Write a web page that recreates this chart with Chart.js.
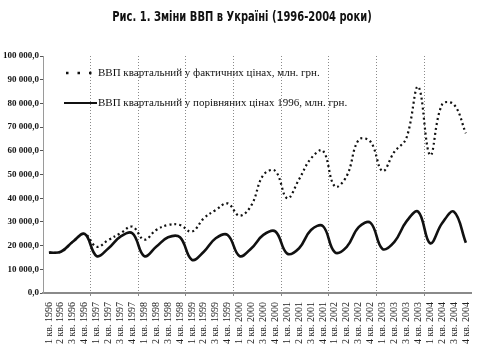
<!DOCTYPE html>
<html>
<head>
<meta charset="utf-8">
<script src="https://cdn.jsdelivr.net/npm/chart.js@4.4.1/dist/chart.umd.min.js"></script>
<style>
html,body{margin:0;padding:0;background:#fff;}
#wrap{width:484px;height:360px;position:relative;}
</style>
</head>
<body>
<div id="wrap"><canvas id="c" width="484" height="360"></canvas></div>
<script>
const titleText = 'Рис. 1. Зміни ВВП в Україні (1996-2004 роки)';
const years = [1996, 1997, 1998, 1999, 2000, 2001, 2002, 2003, 2004];
const quarters = ['1 кв.', '2 кв.', '3 кв.', '4 кв.'];
const categories = [];
years.forEach(y => quarters.forEach(q => categories.push(q + ' ' + y)));

const seriesNames = [
  'ВВП квартальний у фактичних цінах, млн. грн.',
  'ВВП квартальний у порівняних цінах 1996, млн. грн.'
];
const actualPrices = [
  17000, 17400, 21600, 24900,
  19500, 22400, 25200, 28000,
  22500, 26600, 28700, 28700,
  25900, 31500, 35000, 37800,
  32600, 37100, 49800, 51500,
  40000, 48000, 56800, 60000,
  45000, 49400, 64600, 63800,
  51500, 59600, 65300, 87000,
  58200, 79500, 79500, 67400
];
const comparablePrices = [
  17000, 17400, 21600, 24900,
  15600, 18900, 23800, 25200,
  15600, 19500, 23500, 23500,
  14000, 17400, 23100, 24500,
  15600, 18900, 24500, 26000,
  16600, 18900, 26600, 28200,
  17200, 19500, 27800, 29600,
  18600, 21600, 30100, 34300,
  21000, 29400, 34300, 21200
];
const yTicks = [0, 10000, 20000, 30000, 40000, 50000, 60000, 70000, 80000, 90000, 100000];

function fmt(v) {
  const s = Math.round(v).toString().replace(/\B(?=(\d{3})+(?!\d))/g, ' ');
  return s + ',0';
}

const overlay = {
  id: 'overlay',
  afterDraw(chart) {
    const ctx = chart.ctx;
    ctx.save();
    // title (condensed horizontally)
    ctx.fillStyle = '#111';
    ctx.font = 'bold 14px "DejaVu Sans Condensed", "Liberation Sans", sans-serif';
    ctx.textAlign = 'center';
    ctx.textBaseline = 'middle';
    ctx.save();
    ctx.translate(242, 17);
    ctx.scale(0.79, 1);
    ctx.fillText(titleText, 0, 0);
    ctx.restore();
    // legend
    const ds = chart.data.datasets;
    const rows = [73, 103];
    ctx.font = '11px "Liberation Serif", "DejaVu Serif", serif';
    ctx.textAlign = 'left';
    ds.forEach((d, i) => {
      const y = rows[i];
      ctx.strokeStyle = '#111';
      if (i === 0) {
        ctx.lineWidth = 2.5;
        ctx.setLineDash([2.5, 9]);
        ctx.beginPath(); ctx.moveTo(66, y); ctx.lineTo(92, y); ctx.stroke();
      } else {
        ctx.lineWidth = 2;
        ctx.setLineDash([]);
        ctx.beginPath(); ctx.moveTo(64, y); ctx.lineTo(97, y); ctx.stroke();
      }
      ctx.setLineDash([]);
      ctx.fillStyle = '#111';
      ctx.fillText(d.label, 98, y);
    });
    ctx.restore();
  }
};

new Chart(document.getElementById('c'), {
  type: 'line',
  data: {
    labels: categories,
    datasets: [
      {
        label: seriesNames[0],
        data: actualPrices,
        borderColor: '#111',
        borderWidth: 2.2,
        borderDash: [2, 3],
        pointRadius: 0,
        tension: 0.4,
        fill: false
      },
      {
        label: seriesNames[1],
        data: comparablePrices,
        borderColor: '#111',
        borderWidth: 2.6,
        pointRadius: 0,
        tension: 0.4,
        fill: false
      }
    ]
  },
  options: {
    responsive: false,
    animation: false,
    devicePixelRatio: 1,
    layout: { padding: { top: 56, right: 9, left: 0, bottom: 0 } },
    plugins: {
      legend: { display: false },
      title: { display: false },
      tooltip: { enabled: false }
    },
    scales: {
      x: {
        type: 'category',
        offset: true,
        afterFit(s) { s.height = 67; },
        grid: {
          offset: true,
          drawOnChartArea: true,
          drawTicks: true,
          tickLength: 3,
          color: (c) => (c.index > 0 && c.index % 4 === 0) ? '#8a8a8a' : 'rgba(0,0,0,0)',
          lineWidth: 1
        },
        border: { display: true, color: '#8a8a8a', width: 2, dash: [1, 2] },
        ticks: {
          autoSkip: false,
          minRotation: 90,
          maxRotation: 90,
          padding: 6,
          color: '#222',
          font: { family: '"Liberation Serif", "DejaVu Serif", serif', size: 10 }
        }
      },
      y: {
        min: 0,
        max: 100000,
        afterFit(s) { s.width = 43; },
        afterBuildTicks(s) { s.ticks = yTicks.map(v => ({ value: v })); },
        grid: {
          drawOnChartArea: false,
          drawTicks: true,
          tickLength: 3,
          color: '#555'
        },
        border: { display: true, color: '#9a9a9a', width: 1 },
        ticks: {
          padding: 1,
          color: '#111',
          font: { family: '"Liberation Serif", "DejaVu Serif", serif', size: 9, weight: 'bold' },
          callback: (v) => fmt(v)
        }
      }
    }
  },
  plugins: [overlay]
});
</script>
</body>
</html>
